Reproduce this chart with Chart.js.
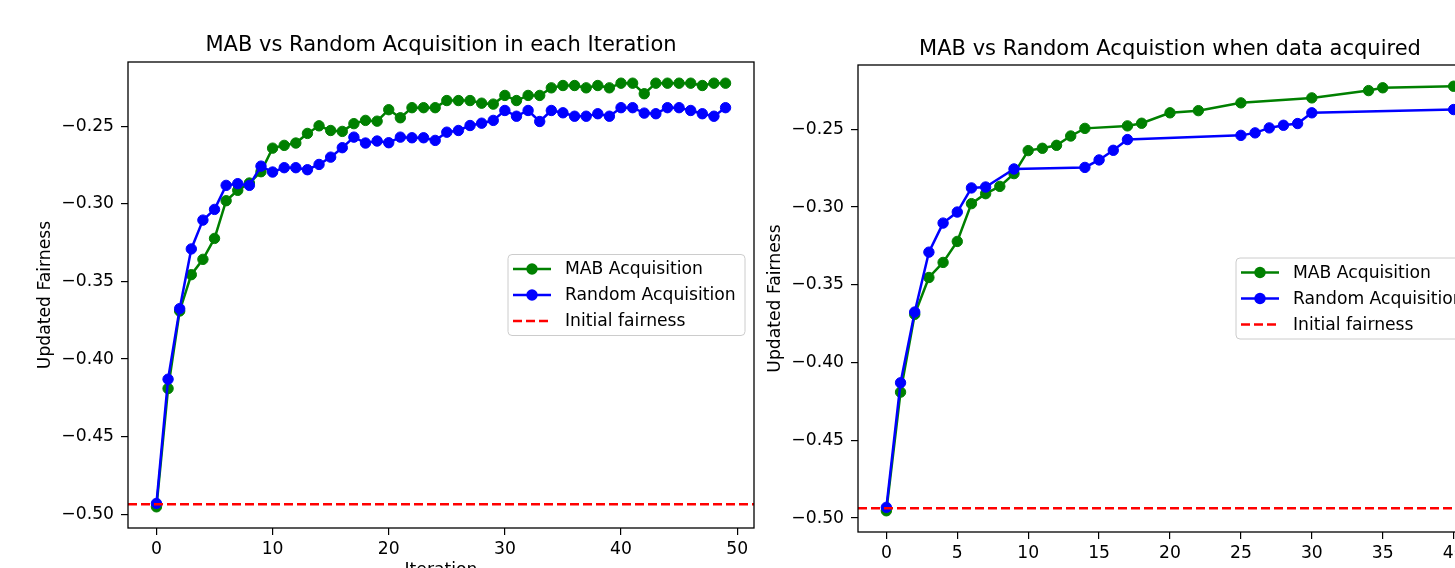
<!DOCTYPE html>
<html>
<head>
<meta charset="utf-8">
<script src="https://cdn.jsdelivr.net/npm/chart.js@4.4.1/dist/chart.umd.min.js"></script>
<style>
  html, body { margin: 0; padding: 0; background: #fff; overflow: hidden; }
  #page { position: relative; width: 1455px; height: 568px; overflow: hidden; }
  canvas { position: absolute; top: 0; }
  #leftChart { left: 0; }
  #rightChart { left: 730px; }
</style>
</head>
<body>
<div id="page">
  <canvas id="leftChart" width="800" height="600"></canvas>
  <canvas id="rightChart" width="800" height="600"></canvas>
</div>
<script>
// --- DATA ---
const iterations = [0,1,2,3,4,5,6,7,8,9,10,11,12,13,14,15,16,17,18,19,20,21,22,23,24,
                    25,26,27,28,29,30,31,32,33,34,35,36,37,38,39,40,41,42,43,44,45,46,47,48,49];
const mabEach = [-0.4953,-0.4190,-0.3690,-0.3456,-0.3357,-0.3222,-0.2979,-0.2912,-0.2865,-0.2792,
                 -0.2640,-0.2622,-0.2607,-0.2545,-0.2496,-0.2526,-0.2532,-0.2482,-0.2461,-0.2466,
                 -0.2392,-0.2444,-0.2379,-0.2379,-0.2379,-0.2333,-0.2333,-0.2333,-0.2350,-0.2356,
                 -0.2300,-0.2333,-0.2300,-0.2300,-0.2251,-0.2236,-0.2236,-0.2251,-0.2236,-0.2251,
                 -0.2221,-0.2221,-0.2289,-0.2221,-0.2221,-0.2221,-0.2221,-0.2236,-0.2221,-0.2221];
const randomEach = [-0.4931,-0.4130,-0.3675,-0.3290,-0.3104,-0.3035,-0.2880,-0.2869,-0.2880,-0.2756,
                    -0.2794,-0.2766,-0.2766,-0.2779,-0.2745,-0.2698,-0.2637,-0.2569,-0.2607,-0.2594,
                    -0.2605,-0.2569,-0.2573,-0.2573,-0.2590,-0.2537,-0.2526,-0.2494,-0.2479,-0.2461,
                    -0.2397,-0.2434,-0.2397,-0.2468,-0.2397,-0.2412,-0.2434,-0.2434,-0.2418,-0.2434,
                    -0.2379,-0.2379,-0.2414,-0.2418,-0.2379,-0.2379,-0.2397,-0.2418,-0.2434,-0.2379];

// right plot: only the iterations where data was acquired
const mabAcqX = [0,1,2,3,4,5,6,7,8,9,10,11,12,13,14,17,18,20,22,25,30,34,35,40];
const mabAcq = [-0.4953,-0.4190,-0.3690,-0.3453,-0.3356,-0.3221,-0.2978,-0.2914,-0.2867,-0.2785,
                -0.2637,-0.2622,-0.2603,-0.2543,-0.2494,-0.2478,-0.2461,-0.2394,-0.2380,-0.2330,
                -0.2298,-0.2251,-0.2233,-0.2223];
const randAcqX = [0,1,2,3,4,5,6,7,9,14,15,16,17,25,26,27,28,29,30,40];
const randAcq = [-0.4931,-0.4130,-0.3675,-0.3290,-0.3103,-0.3032,-0.2877,-0.2871,-0.2755,-0.2745,
                 -0.2697,-0.2635,-0.2566,-0.2539,-0.2523,-0.2491,-0.2474,-0.2463,-0.2394,-0.2373];

const initialFairness = -0.4936;

const seriesLabels = ['MAB Acquisition', 'Random Acquisition', 'Initial fairness'];
const yTickStep = 0.05;

const FONT_SIZE = 17.2;
Chart.defaults.font.family = "'DejaVu Sans', sans-serif";
Chart.defaults.color = '#000';

// matplotlib style autoscale: 5% margin on each side
function padRange(values) {
    const lo = Math.min(...values), hi = Math.max(...values);
    const m = (hi - lo) * 0.05;
    return [lo - m, hi + m];
}

function toPoints(xs, ys) {
    return xs.map((x, i) => ({ x: x, y: ys[i] }));
}

// --- PLUGINS ---
// black box around the axes (spines)
const framePlugin = {
    id: 'frame',
    afterDatasetsDraw(chart) {
        const a = chart.chartArea, ctx = chart.ctx;
        ctx.save();
        ctx.strokeStyle = '#000';
        ctx.lineWidth = 1.3;
        ctx.strokeRect(a.left, a.top, a.right - a.left, a.bottom - a.top);
        ctx.restore();
    }
};

// legend box drawn like matplotlib (line + marker handles), "center right"
const mplLegend = {
    id: 'mplLegend',
    afterDraw(chart, args, opts) {
        const a = chart.chartArea, ctx = chart.ctx;
        const w = opts.width, h = opts.height;
        const left = a.right - opts.gap - w;
        const top = (a.top + a.bottom) / 2 - h / 2;
        ctx.save();
        ctx.beginPath();
        ctx.roundRect(left, top, w, h, 4);
        ctx.fillStyle = 'rgba(255,255,255,0.8)';
        ctx.fill();
        ctx.strokeStyle = '#cccccc';
        ctx.lineWidth = 1;
        ctx.stroke();

        const items = chart.data.datasets.slice().sort((p, q) => p.legendIndex - q.legendIndex);
        items.forEach((ds, i) => {
            const y = top + h / 2 + (i - 1) * opts.rowGap;
            const x0 = left + 5, x1 = left + 43;
            ctx.beginPath();
            ctx.setLineDash(ds.borderDash || []);
            ctx.strokeStyle = ds.borderColor;
            ctx.lineWidth = ds.borderWidth;
            ctx.moveTo(x0, y);
            ctx.lineTo(x1, y);
            ctx.stroke();
            ctx.setLineDash([]);
            if (ds.pointRadius > 0) {
                ctx.beginPath();
                ctx.arc((x0 + x1) / 2, y, ds.pointRadius + 0.5, 0, Math.PI * 2);
                ctx.fillStyle = ds.borderColor;
                ctx.fill();
            }
            ctx.fillStyle = '#000';
            ctx.font = FONT_SIZE + "px 'DejaVu Sans'";
            ctx.textBaseline = 'middle';
            ctx.fillText(ds.label, left + 57, y + 1);
        });
        ctx.restore();
    }
};

function lineSet(label, points, color, order, legendIndex) {
    return {
        label: label, data: points,
        borderColor: color, backgroundColor: color,
        borderWidth: 2.5, tension: 0,
        pointRadius: 5.2, pointBorderWidth: 1,
        pointBackgroundColor: color, pointBorderColor: color,
        order: order, legendIndex: legendIndex
    };
}

function makeChart(id, cfg) {
    const xr = padRange(cfg.xValues);
    const yr = padRange(cfg.yValues);
    const ctx = document.getElementById(id).getContext('2d');
    return new Chart(ctx, {
        type: 'line',
        data: {
            datasets: [
                lineSet(seriesLabels[0], cfg.mab, 'green', 2, 0),
                lineSet(seriesLabels[1], cfg.rand, '#0000ff', 1, 1),
                {
                    label: seriesLabels[2],
                    data: [{ x: xr[0], y: initialFairness }, { x: xr[1], y: initialFairness }],
                    borderColor: '#ff0000', borderWidth: 2.5, borderDash: [9, 4],
                    pointRadius: 0, order: 0, legendIndex: 2
                }
            ]
        },
        options: {
            responsive: false,
            animation: false,
            devicePixelRatio: 1,
            layout: { padding: { left: 0, right: cfg.padRight, top: 0, bottom: 0 } },
            plugins: {
                legend: { display: false },
                tooltip: { enabled: false },
                title: {
                    display: true, text: cfg.title, fullSize: false,
                    font: { size: 21, weight: 'normal' }, color: '#000',
                    padding: { top: cfg.titleTop, bottom: cfg.titleBottom }
                },
                mplLegend: { width: 237, height: 81, gap: 9, rowGap: 26 }
            },
            scales: {
                x: {
                    type: 'linear', min: xr[0], max: xr[1],
                    grid: { drawOnChartArea: false, drawTicks: true, tickLength: 7, color: '#000', lineWidth: 1.2 },
                    border: { display: false },
                    ticks: { stepSize: cfg.xStep, includeBounds: false, padding: 4,
                             font: { size: FONT_SIZE }, color: '#000', maxRotation: 0 },
                    title: { display: !!cfg.xTitle, text: cfg.xTitle || '', font: { size: FONT_SIZE },
                             padding: { top: 0, bottom: 19 } },
                    afterFit(scale) { scale.height = cfg.xHeight; }
                },
                y: {
                    type: 'linear', min: yr[0], max: yr[1],
                    grid: { drawOnChartArea: false, drawTicks: true, tickLength: 7, color: '#000', lineWidth: 1.2 },
                    border: { display: false },
                    ticks: { stepSize: yTickStep, includeBounds: false, padding: 7,
                             font: { size: FONT_SIZE }, color: '#000',
                             callback: v => (v < 0 ? '\u2212' : '') + Math.abs(v).toFixed(2) },
                    title: { display: true, text: 'Updated Fairness', font: { size: FONT_SIZE },
                             padding: { top: 35.5, bottom: 0 } },
                    afterFit(scale) { scale.width = 128; }
                }
            }
        },
        plugins: [framePlugin, mplLegend]
    });
}

// --- LEFT: every iteration ---
makeChart('leftChart', {
    title: 'MAB vs Random Acquisition in each Iteration',
    xTitle: 'Iteration',
    mab: toPoints(iterations, mabEach),
    rand: toPoints(iterations, randomEach),
    xValues: iterations,
    yValues: mabEach.concat(randomEach),
    xStep: 10,
    padRight: 46, titleTop: 33, titleBottom: 3.8, xHeight: 72
});

// --- RIGHT: only when data acquired ---
makeChart('rightChart', {
    title: 'MAB vs Random Acquistion when data acquired',
    xTitle: null,
    mab: toPoints(mabAcqX, mabAcq),
    rand: toPoints(randAcqX, randAcq),
    xValues: mabAcqX.concat(randAcqX),
    yValues: mabAcq.concat(randAcq),
    xStep: 5,
    padRight: 48, titleTop: 37, titleBottom: 2.8, xHeight: 68
});
</script>
</body>
</html>
